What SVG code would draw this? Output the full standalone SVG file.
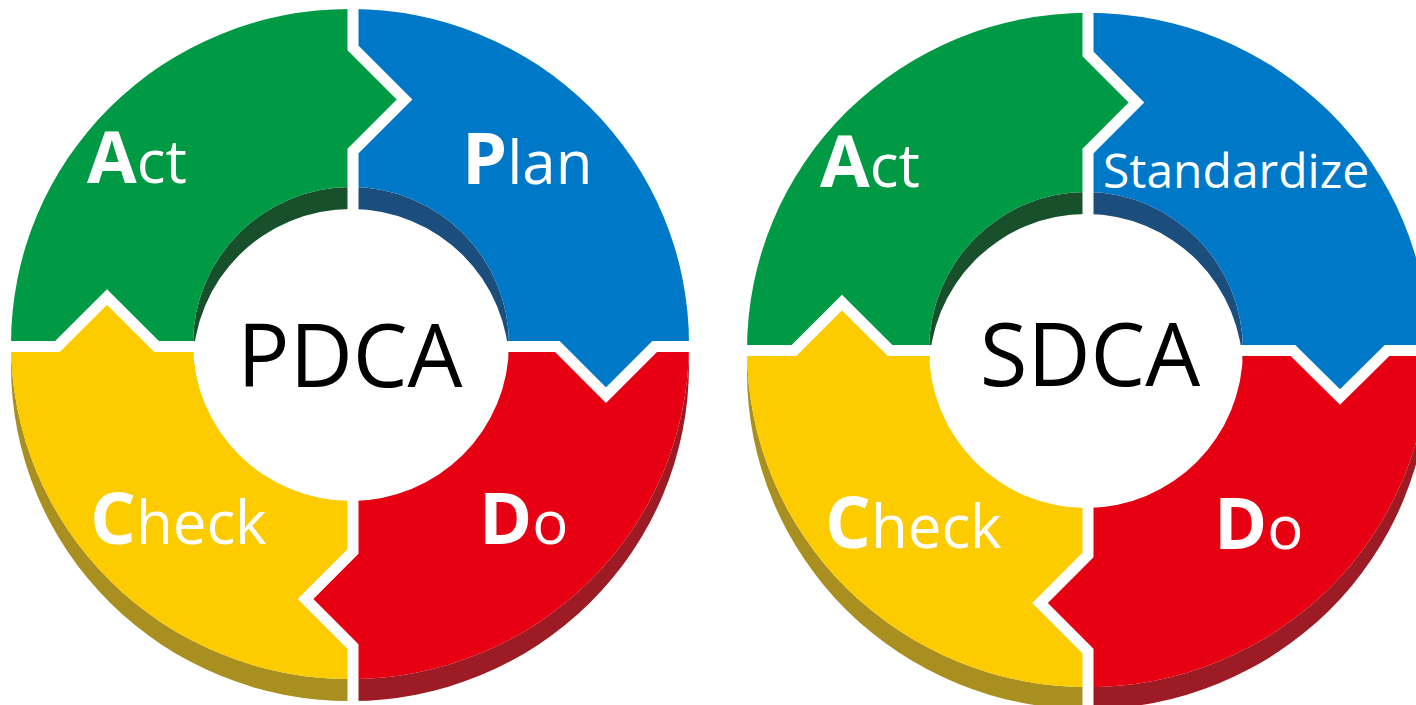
<svg xmlns="http://www.w3.org/2000/svg" xmlns:xlink="http://www.w3.org/1999/xlink" width="1416" height="705" viewBox="0 0 1416 705">
<style>
.lbl{font-family:"Open Sans","Liberation Sans",sans-serif;fill:#ffffff}
.big{font-weight:700;font-size:72px}
.sm{font-weight:400;font-size:60px}
.ctr{font-family:"Open Sans","Liberation Sans",sans-serif;font-size:87px;fill:#000000;text-anchor:middle}
.gap{fill:none;stroke:#ffffff;stroke-width:11;stroke-linejoin:miter;stroke-miterlimit:10}
</style>
<defs>
<path id="ringL" fill-rule="evenodd" d="M11,344 A339,335 0 1 0 689,344 A339,335 0 1 0 11,344 Z M193,344 A158,157 0 1 0 509,344 A158,157 0 1 0 193,344 Z"/>
<path id="ringR" fill-rule="evenodd" d="M747,350 A341,337 0 1 0 1429,350 A341,337 0 1 0 747,350 Z M929,350 A157,158 0 1 0 1243,350 A157,158 0 1 0 929,350 Z"/>
<clipPath id="nfL"><path clip-rule="evenodd" d="M-100,-100 H1600 V900 H-100 Z M11,344 A339,335 0 1 0 689,344 A339,335 0 1 0 11,344 Z M193,344 A158,157 0 1 0 509,344 A158,157 0 1 0 193,344 Z"/></clipPath>
<clipPath id="nfR"><path clip-rule="evenodd" d="M-100,-100 H1600 V900 H-100 Z M747,350 A341,337 0 1 0 1429,350 A341,337 0 1 0 747,350 Z M929,350 A157,158 0 1 0 1243,350 A157,158 0 1 0 929,350 Z"/></clipPath>
<clipPath id="qAL"><path d="M-50,-50 H353 V48 L404.6,99.5 L353,151 V346.5 H156.5 L107,297 L57.5,346.5 H-50 Z"/></clipPath>
<clipPath id="qPL"><path d="M353,-50 H760 V346.5 H654.6 L606,395.1 L557.4,346.5 H353 V151 L404.6,99.5 L353,48 Z"/></clipPath>
<clipPath id="qDL"><path d="M353,346.5 H557.4 L606,395.1 L654.6,346.5 H760 V760 H353 V646.5 L305.5,599 L353,551.5 Z"/></clipPath>
<clipPath id="qCL"><path d="M-50,346.5 H57.5 L107,297 L156.5,346.5 H353 V551.5 L305.5,599 L353,646.5 V760 H-50 Z"/></clipPath>
<clipPath id="qAR"><path d="M700,-50 H1088 V54 L1136.5,102.5 L1088,151 V350.5 H890 L842,302.5 L794,350.5 H700 Z"/></clipPath>
<clipPath id="qSR"><path d="M1088,-50 H1500 V350.5 H1387 L1340,397 L1293,350.5 H1088 V151 L1136.5,102.5 L1088,54 Z"/></clipPath>
<clipPath id="qDR"><path d="M1088,350.5 H1293 L1340,397 L1387,350.5 H1500 V760 H1088 V651 L1040,603 L1088,555 Z"/></clipPath>
<clipPath id="qCR"><path d="M700,350.5 H794 L842,302.5 L890,350.5 H1088 V555 L1040,603 L1088,651 V760 H700 Z"/></clipPath>
</defs>
<rect x="0" y="0" width="1416" height="705" fill="#ffffff"/>

<!-- PDCA ring -->
<g id="pdca-act">
  <g clip-path="url(#qAL)">
    <g clip-path="url(#nfL)"><use xlink:href="#ringL" transform="translate(0,22)" fill="#17502b"/></g>
    <use xlink:href="#ringL" fill="#009a44"/>
  </g>
  <text class="lbl" x="87" y="183"><tspan class="big">A</tspan><tspan class="sm">ct</tspan></text>
</g>
<g id="pdca-plan">
  <g clip-path="url(#qPL)">
    <g clip-path="url(#nfL)"><use xlink:href="#ringL" transform="translate(0,22)" fill="#1b4e7d"/></g>
    <use xlink:href="#ringL" fill="#0078c8"/>
  </g>
  <text class="lbl" x="462" y="184"><tspan class="big">P</tspan><tspan class="sm">lan</tspan></text>
</g>
<g id="pdca-do">
  <g clip-path="url(#qDL)">
    <g clip-path="url(#nfL)"><use xlink:href="#ringL" transform="translate(0,22)" fill="#9c1b24"/></g>
    <use xlink:href="#ringL" fill="#e60012"/>
  </g>
  <text class="lbl" x="479" y="544"><tspan class="big">D</tspan><tspan class="sm">o</tspan></text>
</g>
<g id="pdca-check">
  <g clip-path="url(#qCL)">
    <g clip-path="url(#nfL)"><use xlink:href="#ringL" transform="translate(0,22)" fill="#a98f1f"/></g>
    <use xlink:href="#ringL" fill="#fccb00"/>
  </g>
  <text class="lbl" x="90" y="544"><tspan class="big">C</tspan><tspan class="sm">heck</tspan></text>
</g>
<g id="pdca-center">
  <text class="ctr" x="350" y="387">PDCA</text>
</g>

<!-- SDCA ring -->
<g id="sdca-act">
  <g clip-path="url(#qAR)">
    <g clip-path="url(#nfR)"><use xlink:href="#ringR" transform="translate(0,22)" fill="#17502b"/></g>
    <use xlink:href="#ringR" fill="#009a44"/>
  </g>
  <text class="lbl" x="820" y="187"><tspan class="big">A</tspan><tspan class="sm">ct</tspan></text>
</g>
<g id="sdca-standardize">
  <g clip-path="url(#qSR)">
    <g clip-path="url(#nfR)"><use xlink:href="#ringR" transform="translate(0,22)" fill="#1b4e7d"/></g>
    <use xlink:href="#ringR" fill="#0078c8"/>
  </g>
  <text class="lbl" x="1103" y="188" style="font-size:48px">Standardize</text>
</g>
<g id="sdca-do">
  <g clip-path="url(#qDR)">
    <g clip-path="url(#nfR)"><use xlink:href="#ringR" transform="translate(0,22)" fill="#9c1b24"/></g>
    <use xlink:href="#ringR" fill="#e60012"/>
  </g>
  <text class="lbl" x="1214" y="549"><tspan class="big">D</tspan><tspan class="sm">o</tspan></text>
</g>
<g id="sdca-check">
  <g clip-path="url(#qCR)">
    <g clip-path="url(#nfR)"><use xlink:href="#ringR" transform="translate(0,22)" fill="#a98f1f"/></g>
    <use xlink:href="#ringR" fill="#fccb00"/>
  </g>
  <text class="lbl" x="825" y="548"><tspan class="big">C</tspan><tspan class="sm">heck</tspan></text>
</g>
<g id="sdca-center">
  <text class="ctr" x="1090" y="386">SDCA</text>
</g>

<!-- gaps between segments (arrow-shaped joints) -->
<g id="connectors">
  <path class="gap" d="M353,215 V151 L404.6,99.5 L353,48 V-10"/>
  <path class="gap" d="M497,346.5 H557.4 L606,395.1 L654.6,346.5 H720"/>
  <path class="gap" d="M353,490 V551.5 L305.5,599 L353,646.5 V720"/>
  <path class="gap" d="M-10,346.5 H57.5 L107,297 L156.5,346.5 H205"/>
  <path class="gap" d="M1088,218 V151 L1136.5,102.5 L1088,54 V-10"/>
  <path class="gap" d="M1232,350.5 H1293 L1340,397 L1387,350.5 H1440"/>
  <path class="gap" d="M1088,497 V555 L1040,603 L1088,651 V720"/>
  <path class="gap" d="M720,350.5 H794 L842,302.5 L890,350.5 H940"/>
</g>
</svg>
